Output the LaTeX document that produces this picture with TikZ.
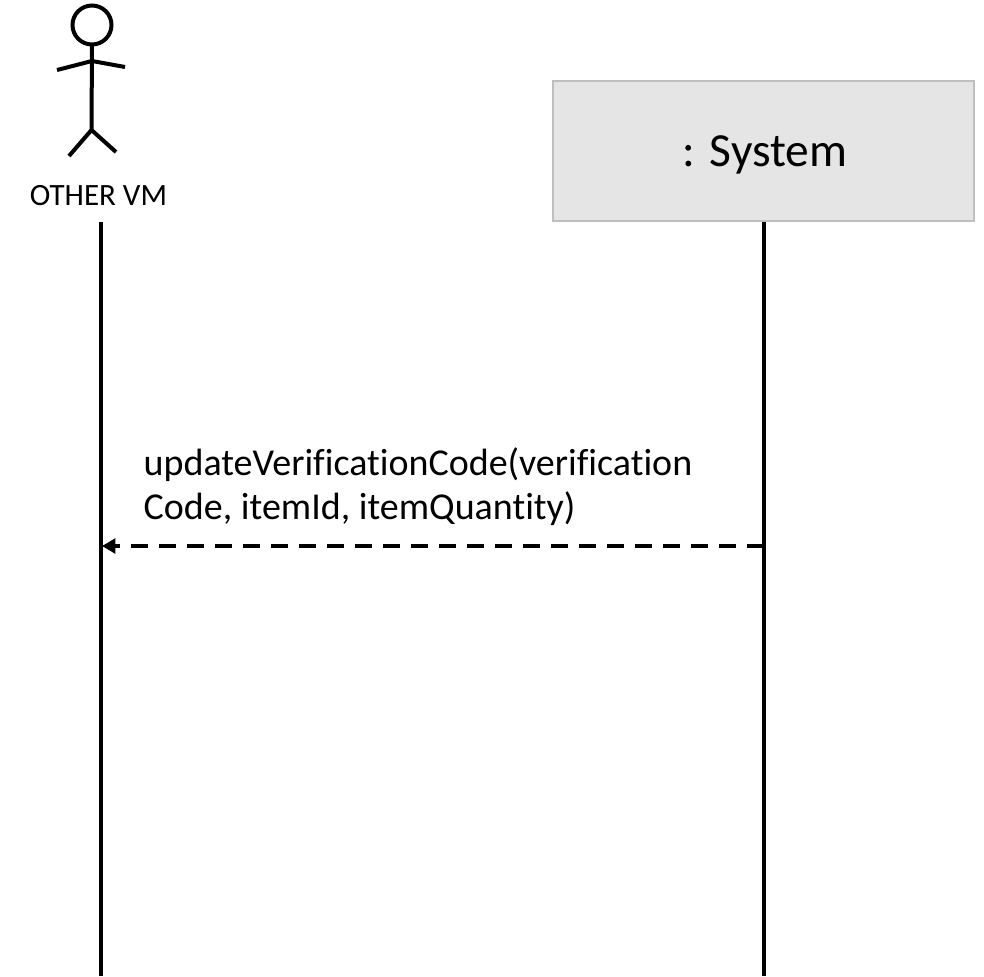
\documentclass[tikz,border=0pt]{standalone}
\usepackage{fontspec}
\setmainfont[RawFeature={-liga;-clig;-dlig}]{Carlito}
\usetikzlibrary{arrows.meta}
\newlength{\pxu}\setlength{\pxu}{0.75pt}
\definecolor{boxfill}{HTML}{E5E5E5}
\definecolor{boxline}{HTML}{BFBFBF}
\tikzset{
 lifeline/.style={draw=black,line width=3pt},
 figure/.style={draw=black,line width=3pt},
 msg/.style={draw=black,line width=3pt,dash pattern=on 12.5pt off 8.5pt,-{Stealth[length=10pt,width=11pt,inset=0pt]}},
 sysbox/.style={draw=boxline,fill=boxfill,line width=2pt,minimum width=421\pxu,minimum height=140\pxu,inner sep=0pt},
 systext/.style={font=\fontsize{47.5\pxu}{56\pxu}\selectfont},
}
\begin{document}
\begin{tikzpicture}[x=0.75pt,y=-0.75pt]
\useasboundingbox (0,0) rectangle (984,976);
\node[sysbox] (sys) at (763.5,151) {};
\node[systext] (systxt) at (765,155) {: System};
\node[font=\fontsize{31\pxu}{37\pxu}\selectfont] (vm) at (98.5,196) {OTHER VM};
\draw[figure] (92,25) circle (19.5);
\coordinate (neck) at (92,44.5);
\coordinate (hip) at (91.5,130);
\draw[figure] (neck) -- (hip);
\draw[figure] (57,70) -- (92,61) -- (125,67);
\draw[figure] (hip) -- (69,156);
\draw[figure] (hip) -- (116,152);
\coordinate (a1) at (100.5,222);
\coordinate (a2) at (100.5,976);
\coordinate (b2) at (763.5,976);
\draw[lifeline] (a1) -- (a2);
\draw[lifeline] (sys.south) -- (b2);
\coordinate (mb) at (763.5,546);
\coordinate (ma) at (102,546);
\draw[msg] (mb) -- (ma);
\node[anchor=west,align=left,font=\fontsize{38\pxu}{44\pxu}\selectfont] (lab) at (139,487) {updateVerificationCode(verification\\Code, itemId, itemQuantity)};
\end{tikzpicture}
\end{document}
